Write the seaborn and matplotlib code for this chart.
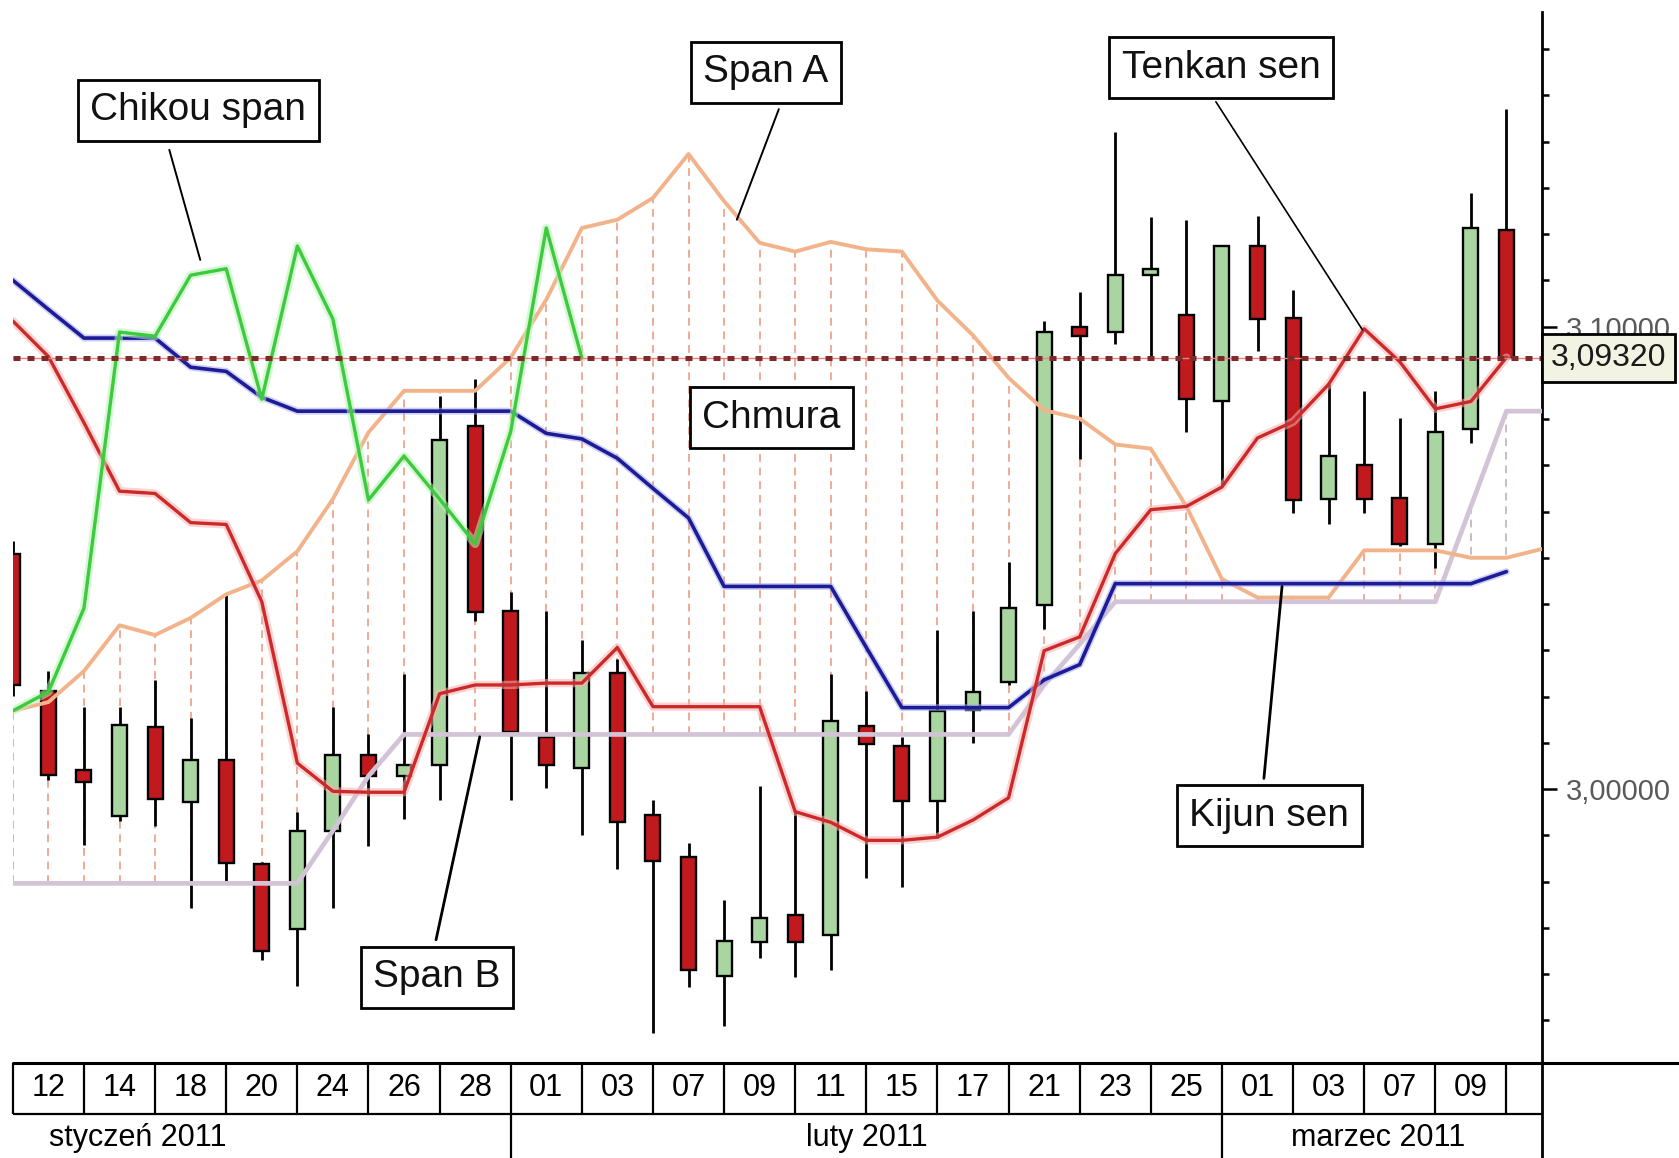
# IMPORT LIBRARIES
import numpy as np
import matplotlib.pyplot as plt
import matplotlib.patheffects as pe
import matplotlib.transforms as mtransforms
from matplotlib.lines import Line2D
import seaborn as sns


# DATA (daily candles)
day_labels = ["12", "14", "18", "20", "24", "26", "28", "01", "03", "07", "09",
              "11", "15", "17", "21", "23", "25", "01", "03", "07", "09"]
month_labels = ["styczeń 2011", "luty 2011", "marzec 2011"]
month_edges = [14, 34]
month_label_pos = [3.5, 24.0, 38.4]

opens = [3.0509, 3.0213, 3.0042, 2.9942, 3.0134, 2.9972, 3.0063, 2.9838, 2.9697, 2.9910,
         3.0074, 3.0028, 3.0051, 3.0785, 3.0384, 3.0113, 3.0046, 3.0250, 2.9944, 2.9852,
         2.9595, 2.9669, 2.9727, 2.9685, 3.0137, 3.0093, 2.9975, 3.0171, 3.0231, 3.0398,
         3.0998, 3.0988, 3.1111, 3.1025, 3.0838, 3.1174, 3.1019, 3.0627, 3.0701, 3.0630,
         3.0530, 3.0778, 3.1208]
highs = [3.0537, 3.0255, 3.0178, 3.0178, 3.0236, 3.0153, 3.0421, 2.9843, 2.9951, 3.0178,
         3.0120, 3.0248, 3.0850, 3.0887, 3.0426, 3.0384, 3.0322, 3.0282, 2.9977, 2.9884,
         2.9759, 3.0007, 2.9951, 3.0248, 3.0213, 3.0113, 3.0343, 3.0384, 3.0491, 3.1012,
         3.1074, 3.1421, 3.1236, 3.1231, 3.1174, 3.1238, 3.1079, 3.0875, 3.0861, 3.0803,
         3.0861, 3.1289, 3.1470]
lows = [3.0201, 3.0019, 2.9878, 2.9931, 2.9919, 2.9743, 2.9801, 2.9630, 2.9574, 2.9743,
        2.9877, 2.9935, 2.9977, 3.0363, 2.9977, 3.0002, 2.9900, 2.9826, 2.9472, 2.9572,
        2.9488, 2.9634, 2.9593, 2.9609, 2.9808, 2.9789, 2.9894, 3.0100, 3.0225, 3.0347,
        3.0713, 3.0963, 3.0933, 3.0771, 3.0655, 3.0947, 3.0597, 3.0574, 3.0597, 3.0525,
        3.0477, 3.0748, 3.0932]
closes = [3.0225, 3.0030, 3.0016, 3.0139, 2.9979, 3.0063, 2.9840, 2.9650, 2.9910, 3.0074,
          3.0028, 3.0053, 3.0755, 3.0382, 3.0123, 3.0051, 3.0250, 2.9928, 2.9845, 2.9609,
          2.9671, 2.9722, 2.9669, 3.0146, 3.0097, 2.9975, 3.0169, 3.0210, 3.0391, 3.0988,
          3.0979, 3.1111, 3.1125, 3.0843, 3.1174, 3.1016, 3.0625, 3.0720, 3.0627, 3.0530,
          3.0773, 3.1213, 3.0932]

tenkan = [3.1012, 3.0935, 3.0792, 3.0644, 3.0639, 3.0576, 3.0572, 3.0405, 3.0056, 2.9995,
          2.9993, 2.9993, 3.0206, 3.0225, 3.0225, 3.0229, 3.0229, 3.0306, 3.0178, 3.0178,
          3.0178, 3.0178, 2.9951, 2.9928, 2.9889, 2.9889, 2.9896, 2.9933, 2.9981, 3.0299,
          3.0329, 3.0509, 3.0604, 3.0611, 3.0653, 3.0759, 3.0794, 3.0875, 3.0995, 3.0924,
          3.0822, 3.0838, 3.0933]
kijun = [3.1100, 3.1037, 3.0975, 3.0975, 3.0975, 3.0912, 3.0903, 3.0847, 3.0817, 3.0817,
         3.0817, 3.0817, 3.0817, 3.0817, 3.0817, 3.0769, 3.0757, 3.0715, 3.0650, 3.0586,
         3.0438, 3.0438, 3.0438, 3.0438, 3.0306, 3.0176, 3.0176, 3.0176, 3.0176, 3.0236,
         3.0269, 3.0444, 3.0444, 3.0444, 3.0444, 3.0444, 3.0444, 3.0444, 3.0444, 3.0444,
         3.0444, 3.0444, 3.0470]
span_a = [3.0169, 3.0188, 3.0255, 3.0354, 3.0333, 3.0370, 3.0421, 3.0451, 3.0514, 3.0627,
          3.0771, 3.0861, 3.0861, 3.0861, 3.0933, 3.1058, 3.1213, 3.1231, 3.1278, 3.1373,
          3.1271, 3.1181, 3.1162, 3.1183, 3.1167, 3.1162, 3.1056, 3.0981, 3.0889, 3.0819,
          3.0801, 3.0745, 3.0736, 3.0611, 3.0454, 3.0414, 3.0414, 3.0414, 3.0516, 3.0516,
          3.0516, 3.0500, 3.0500, 3.0519]
span_b = [2.9796, 2.9796, 2.9796, 2.9796, 2.9796, 2.9796, 2.9796, 2.9796, 2.9796, 2.9910,
          3.0028, 3.0118, 3.0118, 3.0118, 3.0118, 3.0118, 3.0118, 3.0118, 3.0118, 3.0118,
          3.0118, 3.0118, 3.0118, 3.0118, 3.0118, 3.0118, 3.0118, 3.0118, 3.0118, 3.0225,
          3.0313, 3.0405, 3.0405, 3.0405, 3.0405, 3.0405, 3.0405, 3.0405, 3.0405, 3.0405,
          3.0405, 3.0611, 3.0817, 3.0817]
chikou_shift = 26
last_price = 3.0932


# STYLE
sns.set_style("white")
plt.rcParams["font.family"] = ["Liberation Sans", "DejaVu Sans"]

RED = "#c01a1e"
GREEN = "#a9d6a0"

fig = plt.figure(figsize=(16.79, 11.58), dpi=100)
L, R, B = 0.00765, 0.9184, 0.0818
ax = fig.add_axes([L, B, R - L, 1.0 - B])

x = np.arange(len(closes))
xs = np.arange(len(span_a))
o, h, l, c = map(np.array, (opens, highs, lows, closes))
sa, sb = np.array(span_a), np.array(span_b)

# cloud (Chmura) as dashed vertical strokes
cloud_cols = np.where(sa[:len(x)] >= sb[:len(x)], "#eeab94", "#c9bcc9")
ax.vlines(x, sb[:len(x)], sa[:len(x)], colors=cloud_cols, linewidth=1.4,
          linestyles=(0, (4, 3)), zorder=1)

# candles
ax.vlines(x, l, h, color="black", linewidth=2.0, zorder=3)
body_cols = np.where(c >= o, GREEN, RED)
ax.bar(x, np.maximum(np.abs(c - o), 0.0004), bottom=np.minimum(o, c), width=0.42,
       color=body_cols, edgecolor="black", linewidth=1.7, zorder=4)

# ichimoku lines
glow = lambda col, w: [pe.Stroke(linewidth=w, foreground=col, alpha=0.55), pe.Normal()]
sns.lineplot(x=xs, y=sb, ax=ax, color="#d3c3d6", linewidth=3.4, sort=False, zorder=5)
sns.lineplot(x=xs, y=sa, ax=ax, color="#f2b38a", linewidth=2.8, sort=False, zorder=5)
sns.lineplot(x=x, y=kijun, ax=ax, color="#1c1c96", linewidth=2.6, sort=False, zorder=6,
             path_effects=glow("#a8a8ec", 5))
sns.lineplot(x=x, y=tenkan, ax=ax, color="#cc2a2a", linewidth=2.4, sort=False, zorder=6,
             path_effects=glow("#f6b0b0", 6))
chikou = c[chikou_shift:]
sns.lineplot(x=np.arange(len(chikou)), y=chikou, ax=ax, color="#3ccb3c", linewidth=2.4,
             sort=False, zorder=7, path_effects=glow("#b6f2b6", 6))

# last price dotted line
ax.axhline(last_price, color="#f08080", linewidth=1.0, zorder=7)
ax.axhline(last_price, color="#7c2a2a", linewidth=3.6, linestyle=(0, (1.4, 1.4)), zorder=8)

# axes look
ax.set_xlim(0, 43.0)
ax.set_ylim(2.9407, 3.1706)
for s in ["left", "top", "bottom"]:
    ax.spines[s].set_visible(False)
ax.spines["right"].set_linewidth(2.0)
ax.spines["right"].set_color("black")
ax.spines["right"].set_bounds(2.9407, 3.168)
ax.set_xticks([])
ax.yaxis.tick_right()
ax.set_yticks([3.0, 3.1])
ax.set_yticklabels(["3,00000", "3,10000"])
ax.set_yticks([round(2.95 + 0.01 * k, 2) for k in range(22) if k not in (5, 15)], minor=True)
ax.tick_params(axis="y", which="major", direction="out", length=11, width=1.8,
               color="black", labelsize=21, labelcolor="#5a5a5a", pad=6)
ax.tick_params(axis="y", which="minor", direction="out", length=5, width=1.8, color="black")
ax.set_ylabel("")

# last price box on the axis
tr = mtransforms.blended_transform_factory(ax.transAxes, ax.transData)
ax.text(1.0058, last_price, "3,09320", transform=tr, ha="left", va="center", fontsize=23,
        color="#1a1a1a", clip_on=False, zorder=20,
        bbox=dict(boxstyle="square,pad=0.28", fc="#f3f3e4", ec="black", lw=2))

# annotations
box = dict(boxstyle="square,pad=0.32", fc="white", ec="black", lw=2)
notes = [
    ("Chikou span", 5.21, 3.1468, (4.40, 3.1382), (5.27, 3.1144), 1.4),
    ("Span A", 21.17, 3.1550, (21.54, 3.1470), (20.36, 3.1231), 1.4),
    ("Tenkan sen", 33.98, 3.1560, (33.83, 3.1486), (37.95, 3.0993), 1.2),
    ("Chmura", 21.33, 3.0803, None, None, 0),
    ("Span B", 11.93, 2.9593, (11.90, 2.9674), (13.13, 3.0113), 2.0),
    ("Kijun sen", 35.33, 2.9942, (35.18, 3.0023), (35.69, 3.0438), 2.0),
]
for txt, tx, ty, p0, p1, lw in notes:
    if p0 is not None:
        ax.plot([p0[0], p1[0]], [p0[1], p1[1]], color="black", linewidth=lw, zorder=15)
    ax.text(tx, ty, txt, ha="center", va="center", fontsize=28, color="#111111",
            bbox=box, zorder=16)

# DATE TABLE BELOW
ax2 = fig.add_axes([L, 0, R - L, B])
ax2.set_xlim(0, 43.0)
ax2.set_ylim(0, B)
ax2.axis("off")
row = 0.0383
ax2.vlines(np.arange(0, 43, 2), row, B, color="black", linewidth=1.6, clip_on=False)
ax2.vlines(month_edges, 0, row, color="black", linewidth=1.6, clip_on=False)
ax2.vlines([43.0], 0, B, color="black", linewidth=2.0, clip_on=False)
ax2.hlines(row, 0, 43.0, color="black", linewidth=1.6, clip_on=False)
for k, lab in enumerate(day_labels):
    ax2.text(2 * k + 1, (row + B) / 2, lab, ha="center", va="center", fontsize=22, color="black")
for pos, lab in zip(month_label_pos, month_labels):
    ax2.text(pos, row / 2 - 0.002, lab, ha="center", va="center", fontsize=22, color="black")
fig.add_artist(Line2D([L, 1.0], [B, B], transform=fig.transFigure, color="black", linewidth=2.2))

fig.savefig("out.png", dpi=100)
